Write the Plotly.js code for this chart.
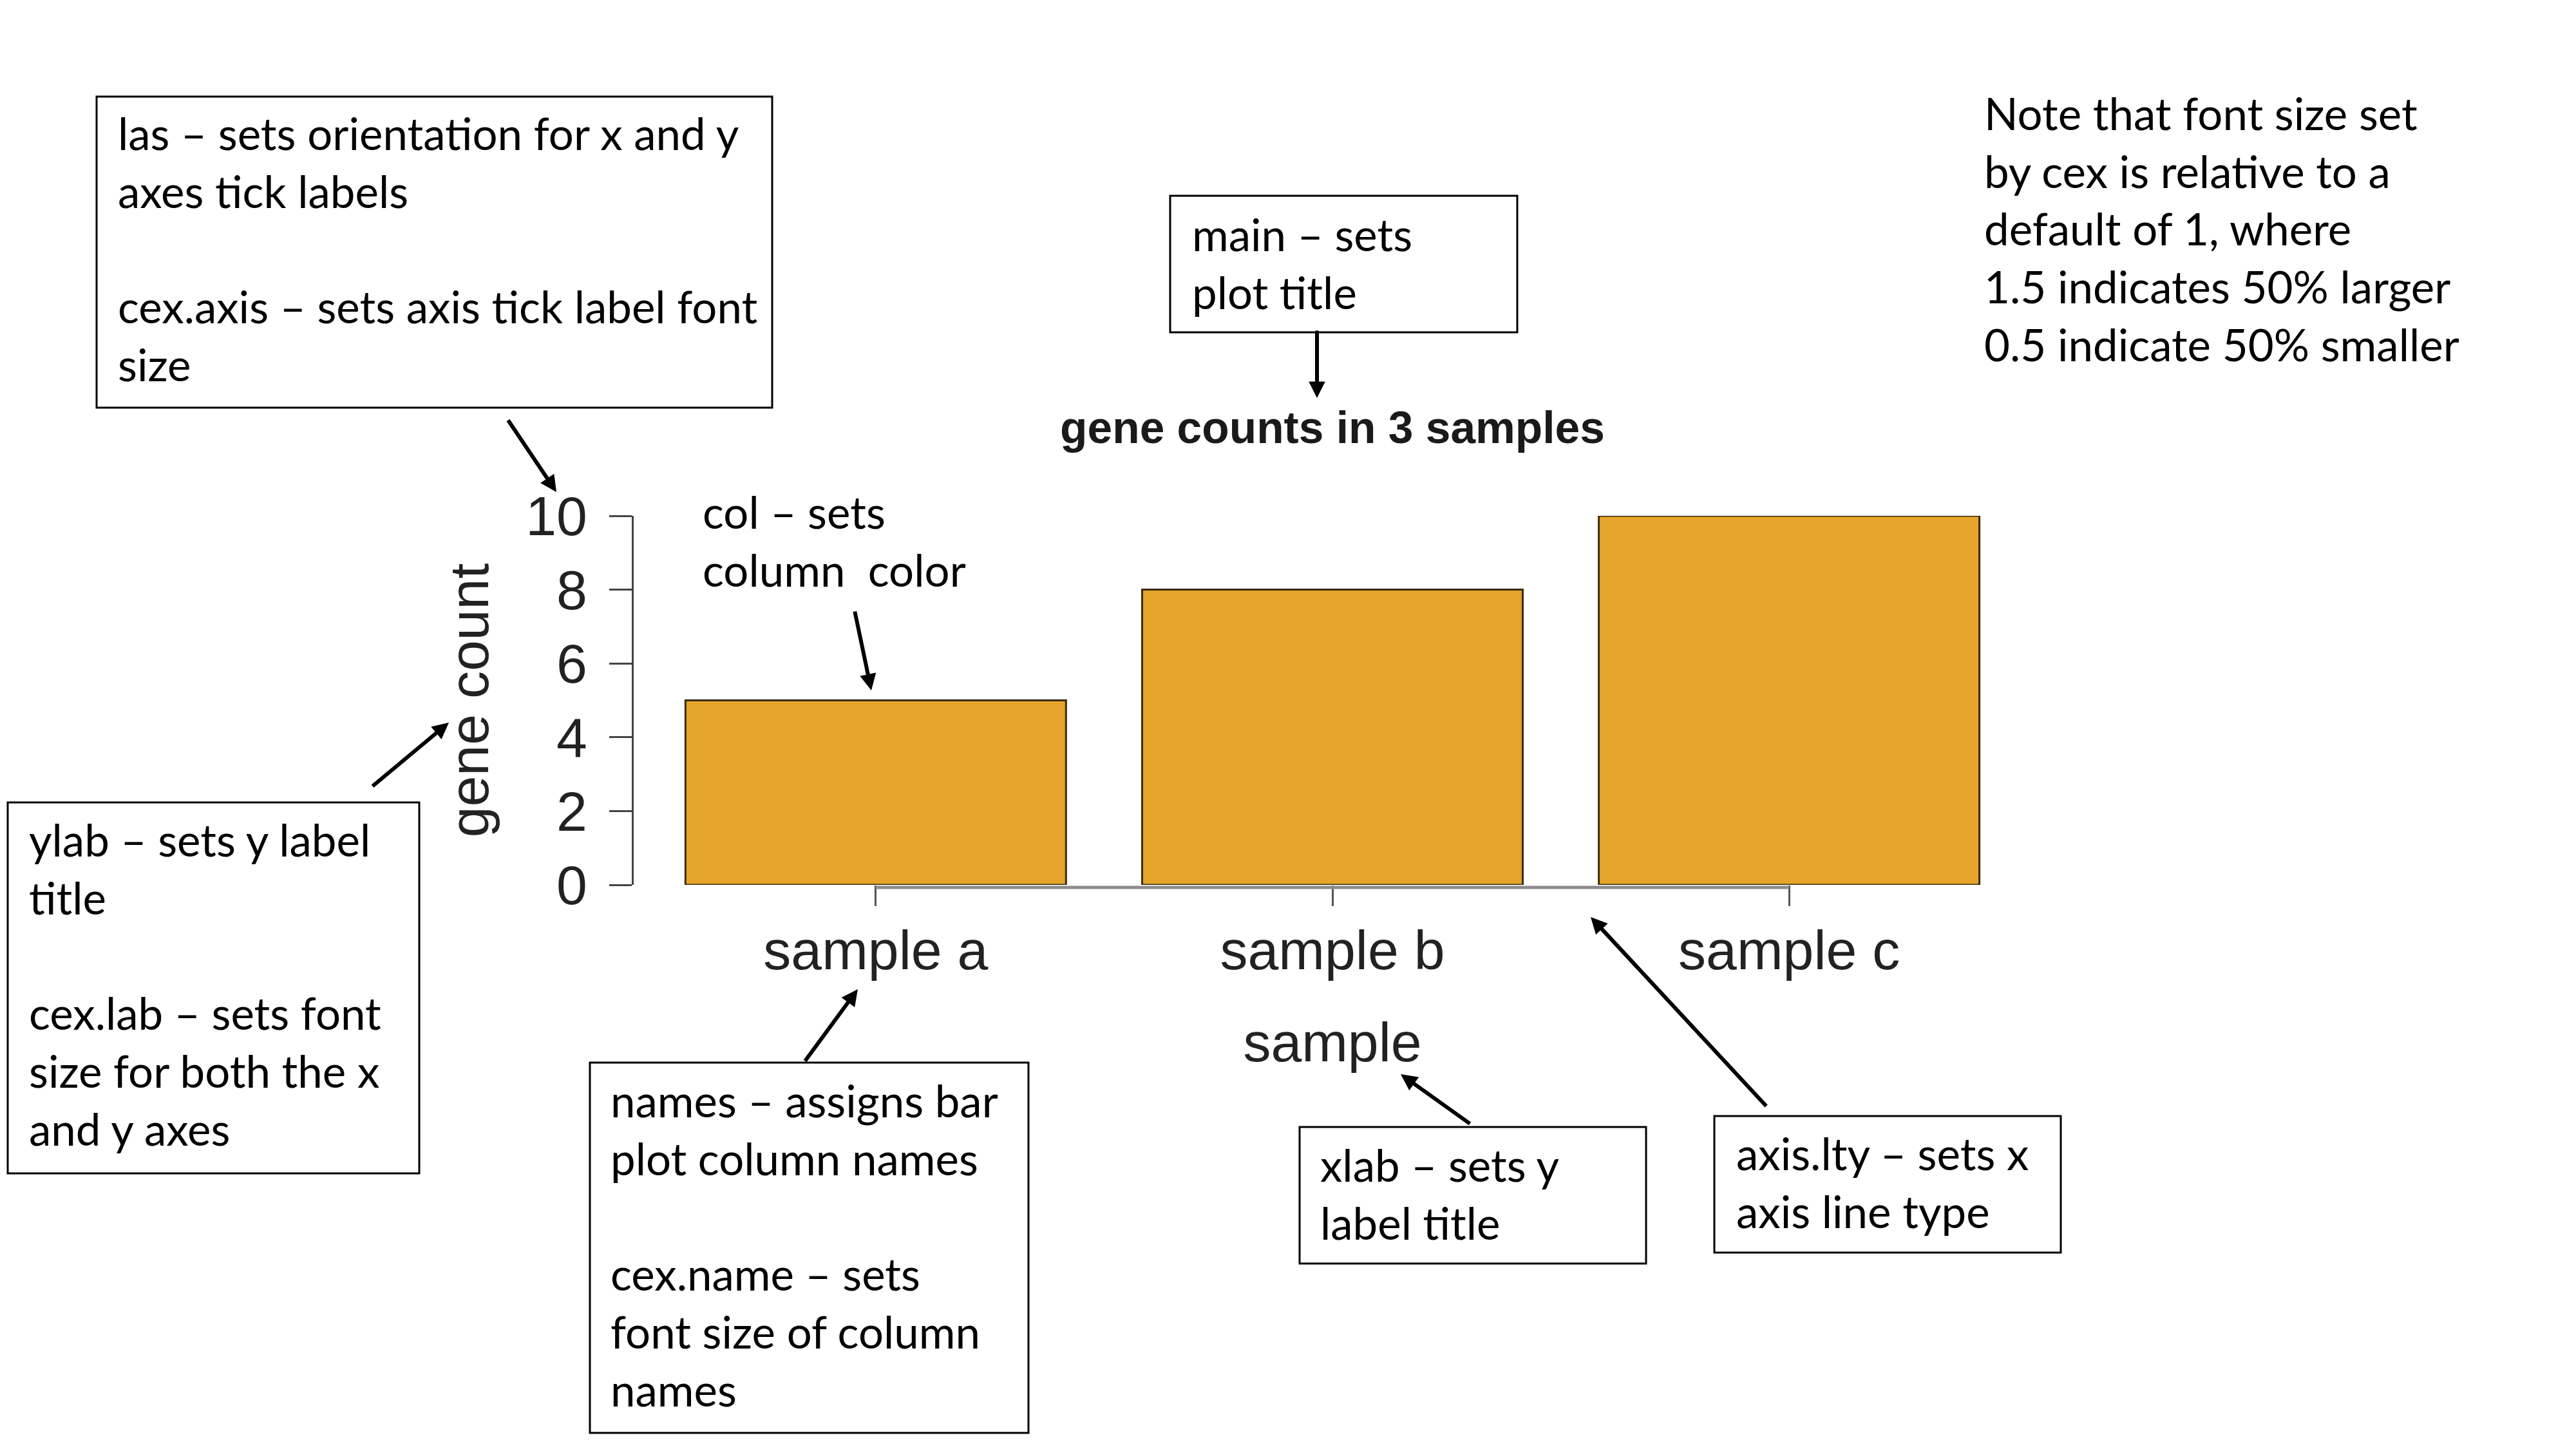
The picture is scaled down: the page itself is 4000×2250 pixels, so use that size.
<!DOCTYPE html>
<html>
<head>
<meta charset="utf-8">
<script src="https://cdn.plot.ly/plotly-3.0.1.min.js"></script>
<style>
  html, body { margin: 0; padding: 0; background: #ffffff; }
  #chart { width: 4000px; height: 2250px; }
</style>
</head>
<body>
<div id="chart"></div>
<script>
// ---------------- data ----------------
const categories = ['sample a', 'sample b', 'sample c'];
const geneCounts = [5, 8, 10];
const yTickVals = [0, 2, 4, 6, 8, 10];
const yTickText = ['0', '2', '4', '6', '8', '10'];
const chartTitle = 'gene counts in 3 samples';
const xTitle = 'sample';
const yTitle = 'gene count';

// callout texts
const lasText = ['las – sets orientation for x and y', 'axes tick labels', '', 'cex.axis – sets axis tick label font', 'size'];
const mainText = ['main – sets', 'plot title'];
const colText = ['col – sets', 'column  color'];
const ylabText = ['ylab – sets y label', 'title', '', 'cex.lab – sets font', 'size for both the x', 'and y axes'];
const namesText = ['names – assigns bar', 'plot column names', '', 'cex.name – sets', 'font size of column', 'names'];
const xlabText = ['xlab – sets y', 'label title'];
const axisLtyText = ['axis.lty – sets x', 'axis line type'];
const noteText = ['Note that font size set', 'by cex is relative to a', 'default of 1, where', '1.5 indicates 50% larger', '0.5 indicate 50% smaller'];

// ---------------- helpers (page pixels -> paper) ----------------
const W = 4000, H = 2250;
const px = v => v / W;
const py = v => 1 - v / H;

const RFONT = 'Liberation Sans, Arial, Helvetica, sans-serif';
const NFONT = 'Lato, Carlito, Calibri, sans-serif';
const NSIZE = 69;

const barColor = '#E6A52A';

const trace = {
  type: 'bar',
  x: categories,
  y: geneCounts,
  marker: { color: barColor, line: { color: '#3a2a10', width: 3 } },
  cliponaxis: false,
  hoverinfo: 'x+y'
};

// plot area in page px
const plotLeft = 984, plotRight = 3154, plotTop = 801, plotBottom = 1374;

// text blocks: [lines, left x, vertical middle y]
const blocks = [
  [lasText, 181, 386],
  [mainText, 1849, 408],
  [colText, 1089, 840],
  [ylabText, 43, 1528],
  [namesText, 946, 1933],
  [xlabText, 2048, 1853],
  [axisLtyText, 2694, 1836],
  [noteText, 3079, 355]
];

const annotations = blocks.map(b => ({
  xref: 'paper', yref: 'paper',
  x: px(b[1]), y: py(b[2]),
  xanchor: 'left', yanchor: 'middle', align: 'left',
  text: b[0].map(s => s === '' ? '&nbsp;' : s).join('<br>'),
  showarrow: false,
  font: { family: NFONT, size: NSIZE, color: '#000000' }
}));

// arrows: [tail x, tail y, tip x, tip y]
const arrows = [
  [788, 651, 864, 764],
  [2045, 512, 2045, 618],
  [1327, 948, 1353, 1072],
  [577, 1222, 697, 1122],
  [1249, 1649, 1332, 1536],
  [2284, 1746, 2175, 1668],
  [2744, 1719, 2470, 1424]
];
arrows.forEach(a => annotations.push({
  xref: 'paper', yref: 'paper',
  x: px(a[2]), y: py(a[3]),
  ax: a[0] - a[2], ay: a[1] - a[3],
  axref: 'pixel', ayref: 'pixel',
  text: '', showarrow: true,
  arrowhead: 2, arrowsize: 0.85, arrowwidth: 6, arrowcolor: '#000000',
  standoff: 0, startstandoff: 0
}));

// boxes: [x0, y0, x1, y1]
const boxes = [
  [150, 150, 1199, 633],
  [1817, 304, 2356, 516],
  [12, 1246, 651, 1822],
  [916, 1650, 1597, 2225],
  [2018, 1750, 2556, 1962],
  [2662, 1733, 3200, 1945]
];
const shapes = boxes.map(b => ({
  type: 'rect', xref: 'paper', yref: 'paper',
  x0: px(b[0]), x1: px(b[2]), y0: py(b[3]), y1: py(b[1]),
  line: { color: '#000000', width: 3 }, fillcolor: 'rgba(0,0,0,0)'
}));
// R-style x axis line running between first and last bar centres
shapes.push({
  type: 'line', xref: 'x', yref: 'paper',
  x0: 0, x1: categories.length - 1,
  y0: py(plotBottom + 4), y1: py(plotBottom + 4),
  line: { color: '#8c8c8c', width: 5 }
});

const layout = {
  width: W, height: H,
  margin: { l: 0, r: 0, t: 0, b: 0 },
  paper_bgcolor: '#ffffff',
  plot_bgcolor: '#ffffff',
  showlegend: false,
  bargap: 1 / 6,
  title: {
    text: chartTitle,
    font: { family: RFONT, size: 69.5, weight: 700, color: '#1a1a1a' },
    x: px((plotLeft + plotRight) / 2), xanchor: 'center', xref: 'paper',
    y: py(664), yanchor: 'middle', yref: 'container'
  },
  xaxis: {
    domain: [px(plotLeft), px(plotRight)],
    range: [-0.53, 2.53],
    showgrid: false, zeroline: false, showline: false,
    ticks: 'outside', ticklen: 32, tickwidth: 3, tickcolor: '#555555',
    tickfont: { family: RFONT, size: 86, color: '#222222' },
    ticklabelstandoff: -5,
    title: { text: xTitle, font: { family: RFONT, size: 86, color: '#222222' }, standoff: 65 },
    fixedrange: true
  },
  yaxis: {
    domain: [py(plotBottom), py(plotTop)],
    range: [0, 10],
    tickvals: yTickVals, ticktext: yTickText,
    showgrid: false, zeroline: false,
    showline: true, linecolor: '#444444', linewidth: 3,
    ticks: 'outside', ticklen: 35, tickwidth: 3, tickcolor: '#444444',
    tickfont: { family: RFONT, size: 86, color: '#222222' },
    ticklabelstandoff: 17,
    title: { text: yTitle, font: { family: RFONT, size: 86, color: '#222222' }, standoff: 30 },
    fixedrange: true
  },
  annotations: annotations,
  shapes: shapes
};

Plotly.newPlot('chart', [trace], layout, { displayModeBar: false, staticPlot: true });
</script>
</body>
</html>
